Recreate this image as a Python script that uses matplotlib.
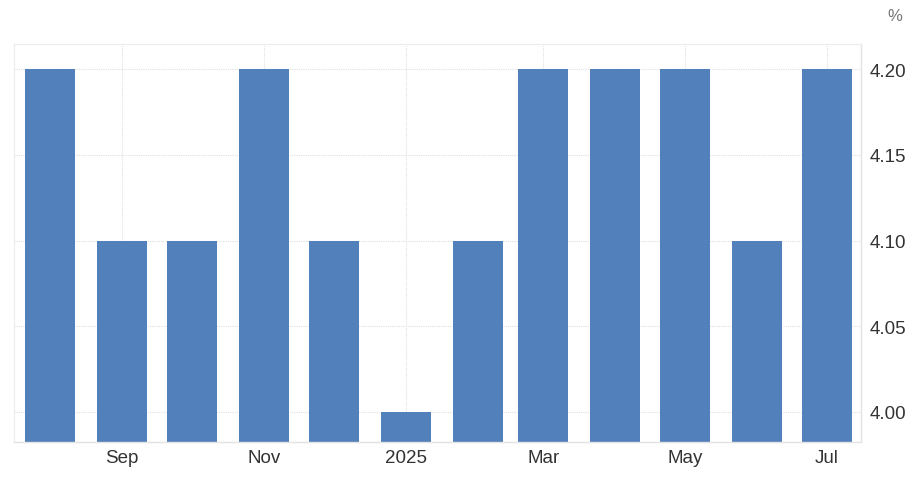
import matplotlib
matplotlib.use("Agg")
import matplotlib.pyplot as plt
import matplotlib.dates as mdates
import pandas as pd

plt.rcParams['font.family'] = ['Liberation Sans', 'DejaVu Sans']

months = ["2024-08", "2024-09", "2024-10", "2024-11", "2024-12", "2025-01",
          "2025-02", "2025-03", "2025-04", "2025-05", "2025-06", "2025-07"]
values = [4.2, 4.1, 4.1, 4.2, 4.1, 4.0, 4.1, 4.2, 4.2, 4.2, 4.1, 4.2]
tick_months = ["2024-09", "2024-11", "2025-01", "2025-03", "2025-05", "2025-07"]
tick_labels = ["Sep", "Nov", "2025", "Mar", "May", "Jul"]
y_ticks = [4.00, 4.05, 4.10, 4.15, 4.20]

dates = pd.to_datetime(months)
tdates = pd.to_datetime(tick_months)

fig = plt.figure(figsize=(9.14, 4.81), dpi=100)
ax = fig.add_axes([0.0153, 0.079, 0.9267, 0.8274])

ax.bar(mdates.date2num(dates), values, width=21.5, color="#5180BA", zorder=2)

ax.set_xlim(mdates.date2num(pd.Timestamp("2024-08-01")) - 15.5,
            mdates.date2num(pd.Timestamp("2025-07-01")) + 14.6)
ax.set_ylim(3.9825, 4.2146)

ax.set_xticks(mdates.date2num(tdates))
ax.set_xticklabels(tick_labels)
ax.set_yticks(y_ticks)
ax.set_yticklabels([f"{v:.2f}" for v in y_ticks])
ax.yaxis.tick_right()

ax.tick_params(axis="both", length=0, labelsize=13.5, colors="#333333")
ax.tick_params(axis="y", pad=6)
ax.tick_params(axis="x", pad=5)

ax.grid(True, color="#e0e0e0", linestyle=(0, (1, 1)), linewidth=0.8, zorder=0)
for s in ["left", "top"]:
    ax.spines[s].set_color("#ececec")
    ax.spines[s].set_linestyle((0, (1, 1)))
    ax.spines[s].set_linewidth(0.8)
for s in ["right", "bottom"]:
    ax.spines[s].set_color("#e3e3e3")
    ax.spines[s].set_linewidth(1.0)

fig.text(0.979, 0.965, "%", ha="center", va="center", fontsize=12, color="#777777")

fig.savefig("out.png", dpi=100)
